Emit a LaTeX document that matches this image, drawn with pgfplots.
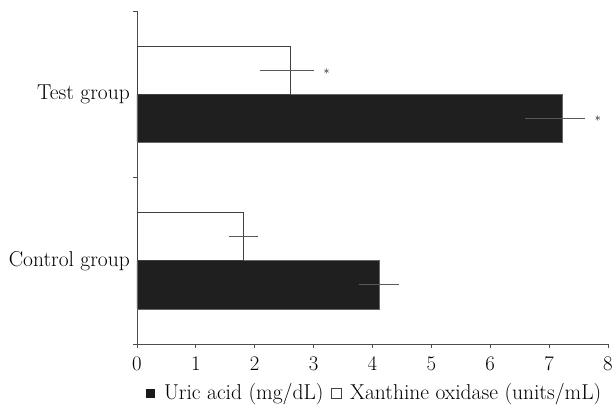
\documentclass[border=0pt]{standalone}
\usepackage{pgfplots}
\pgfplotsset{compat=1.18}
\pgfplotstableread{
y x ep em
-0.1445 4.12 0.30 0.32
0.8555 7.22 0.36 0.59
}\uric
\pgfplotstableread{
y x ep em
0.1445 1.80 0.22 0.20
1.1445 2.60 0.38 0.47
}\xanth
\begin{document}
\fontsize{21}{25}\selectfont
\begin{tikzpicture}[x=1pt,y=1pt]
\path[use as bounding box] (-137,-64) rectangle (477,344);
\begin{axis}[
 at={(0,0)}, anchor=south west,
 scale only axis, width=471pt, height=333pt,
 xmin=0, xmax=8, ymin=-0.5, ymax=1.5,
 axis x line*=bottom, axis y line*=left,
 xtick={0,...,8},
 ytick={-0.5,0.5,1.5}, yticklabels={},
 extra y ticks={0,1}, extra y tick labels={Control group, Test group},
 extra y tick style={major tick length=0pt, tick style={draw=none}},
 axis line style={black!70, line width=0.8pt},
 tick style={black!70, line width=0.8pt},
 tick align=outside, major tick length=4pt,
 xticklabel style={font=\fontsize{20.5}{24}\selectfont, yshift=-2pt},
 yticklabel style={font=\fontsize{21.5}{25}\selectfont},
 legend style={at={(0.505,-0.147)}, anchor=center, legend columns=2, draw=none, fill=none,
   font=\fontsize{21.5}{25}\selectfont,
   /tikz/every odd column/.append style={column sep=7pt},
   /tikz/every even column/.append style={column sep=5pt}},
 clip=false,
]
\addplot[xbar, bar width=0.289, bar shift=0pt, fill=black!88, draw=black!60, line width=0.6pt,
  legend image code/.code={\draw[fill=black!90,draw=black!90] (0pt,-4pt) rectangle (8pt,4pt);},
  error bars/.cd, x dir=both, x explicit,
  error bar style={black!65, line width=1pt},
  error mark options={black!65, line width=1pt, mark size=2pt}]
  table[x=x, y=y, x error plus=ep, x error minus=em] {\uric};
\addlegendentry{Uric acid (mg/dL)}
\addplot[xbar, bar width=0.289, bar shift=0pt, fill=white, draw=black!75, line width=0.8pt,
  legend image code/.code={\draw[fill=white,draw=black!75,line width=0.7pt] (0pt,-5pt) rectangle (10pt,5pt);},
  error bars/.cd, x dir=both, x explicit,
  error bar style={black!65, line width=1pt},
  error mark options={black!65, line width=1pt, mark size=2pt}]
  table[x=x, y=y, x error plus=ep, x error minus=em] {\xanth};
\addlegendentry{Xanthine oxidase (units/mL)}
\node[font=\fontsize{13}{13}\selectfont] at (axis cs:7.83,0.854) {$\ast$};
\node[font=\fontsize{13}{13}\selectfont] at (axis cs:3.22,1.134) {$\ast$};
\end{axis}
\end{tikzpicture}
\end{document}
